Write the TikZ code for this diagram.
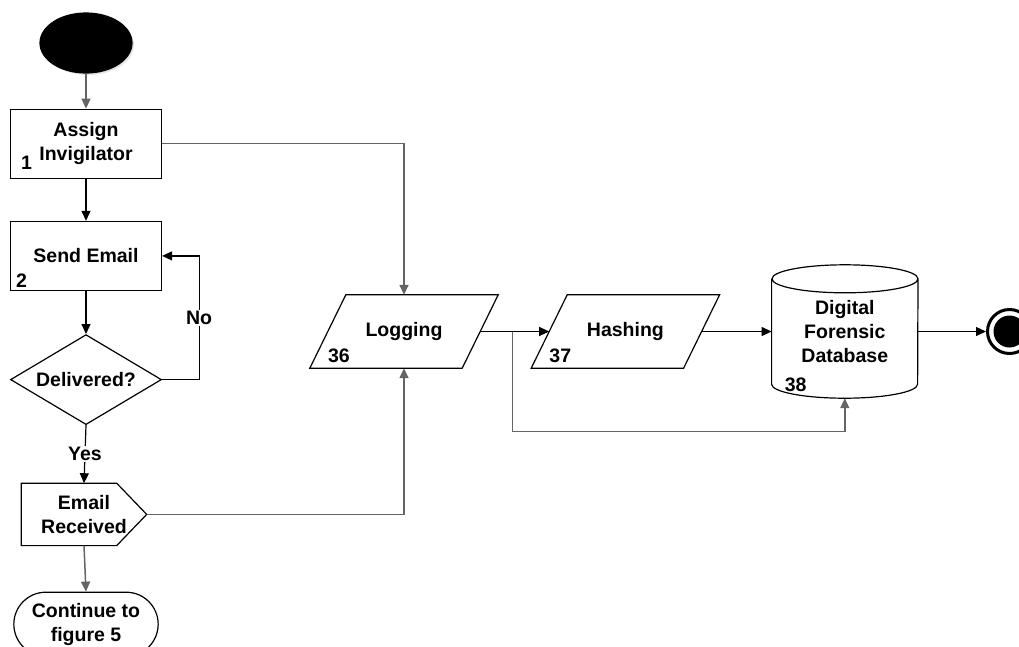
\documentclass[tikz,border=0pt]{standalone}
\usepackage{fontspec}
\setmainfont{Liberation Sans}
\usetikzlibrary{positioning,shapes.geometric,shapes.misc,arrows.meta,shadows}
\definecolor{linegray}{RGB}{100,100,100}

\begin{document}
\begin{tikzpicture}[x=1pt, y=1pt,
            font=\fontsize{19.5}{24}\selectfont\bfseries,
            startnode/.style={ellipse, draw, fill=black, line width=1.2pt, minimum width=92pt, minimum height=60pt, drop shadow={shadow xshift=2pt, shadow yshift=-2pt, fill=black!20}},
            boxnode/.style={rectangle, draw, line width=1.2pt, minimum width=151pt, minimum height=69pt, align=center, inner sep=2pt},
            decnode/.style={diamond, draw, line width=1.2pt, aspect=1.68, inner sep=0pt, minimum width=151pt, minimum height=90pt},
            plainnode/.style={rectangle, align=center, inner sep=0pt},
            contnode/.style={rounded rectangle, draw, line width=1.2pt, minimum width=151pt, minimum height=64pt, align=center},
            ionode/.style={plainnode, minimum width=188pt, minimum height=73pt},
            endnode/.style={circle, draw, line width=3pt, fill=white, minimum size=44pt, path picture={\fill[black] (path picture bounding box.center) circle (16pt);}},
            numnode/.style={inner sep=0pt},
            lbl/.style={fill=white, inner sep=1pt},
            arr/.style={-{Triangle[length=10pt,width=9pt]}, line width=1.2pt},
            garr/.style={arr, draw=linegray, line width=1.5pt},
        ]
        \useasboundingbox (0,0) rectangle (1019,-646);

        %Nodes
        \node[startnode]  (start)                                  at (86,-43) {};
        \node[boxnode]    (assign)   [below=35pt of start]         {Assign\\Invigilator};
        \node[boxnode]    (send)     [below=42pt of assign]        {Send Email};
        \node[decnode]    (deliv)    [below=43pt of send]          {Delivered?};
        \node[plainnode, minimum width=125pt, minimum height=62pt]
                          (recv)     [below=58pt of deliv, xshift=-2pt] {Email\\Received};
        \node[contnode]   (cont)     [below=46pt of recv, xshift=2pt]   {Continue to\\figure 5};

        \node[ionode]     (logging)                                at (404,-331.5) {Logging};
        \node[ionode]     (hashing)  [right=33pt of logging]       {Hashing};
        \node[plainnode, minimum width=146pt, minimum height=133pt]
                          (db)       [right=52pt of hashing]       {Digital\\Forensic\\Database};
        \node[endnode]    (end)      [right=68pt of db]            {};

        %Numbers
        \node[numnode] (n1)  [above right=9pt and 11pt of assign.south west]  {1};
        \node[numnode] (n2)  [above right=3pt and 6pt of send.south west]     {2};
        \node[numnode] (n36) [above right=5pt and 18pt of logging.south west] {36};
        \node[numnode] (n37) [above right=5pt and 18pt of hashing.south west] {37};
        \node[numnode] (n38) [above right=6pt and 13pt of db.south west]      {38};

        %Shapes drawn by hand
        \draw[line width=1.2pt] (recv.north west) -- ([xshift=-30pt]recv.north east) -- (recv.east)
            -- ([xshift=-30pt]recv.south east) -- (recv.south west) -- cycle;
        \foreach \io in {logging, hashing}
            \draw[line width=1.2pt] (\io.south west) -- ([xshift=36pt]\io.north west)
                -- (\io.north east) -- ([xshift=-36pt]\io.south east) -- cycle;
        \draw[line width=1.2pt] ([yshift=-14pt]db.north west) -- ([yshift=14pt]db.south west)
            arc[start angle=180, end angle=360, x radius=73pt, y radius=14pt]
            -- ([yshift=-14pt]db.north east)
            arc[start angle=0, end angle=180, x radius=73pt, y radius=14pt]
            arc[start angle=180, end angle=360, x radius=73pt, y radius=14pt];

        %Lines
        \draw[garr] (start.south) -- (assign.north);
        \draw[arr] (assign.south) -- (send.north);
        \draw[arr] (send.south) -- (deliv.north);
        \draw[arr] (deliv.east) -- ++(37,0) |- node[lbl, pos=0.25] {No} (send.east);
        \draw[arr] (deliv.south) -- node[lbl] {Yes} (recv.north);
        \draw[garr] (recv.south) -- (cont.north);
        \draw[garr] (assign.east) -| (logging.north);
        \draw[garr] (recv.east) -| (logging.south);
        \draw[arr] ([xshift=-18pt]logging.east) -- coordinate[pos=0.47] (split) ([xshift=18pt]hashing.west);
        \draw[garr] (split) -- ++(0,-100) -| (db.south);
        \draw[arr] ([xshift=-18pt]hashing.east) -- (db.west);
        \draw[arr] (db.east) -- (end.west);
    \end{tikzpicture}
\end{document}
